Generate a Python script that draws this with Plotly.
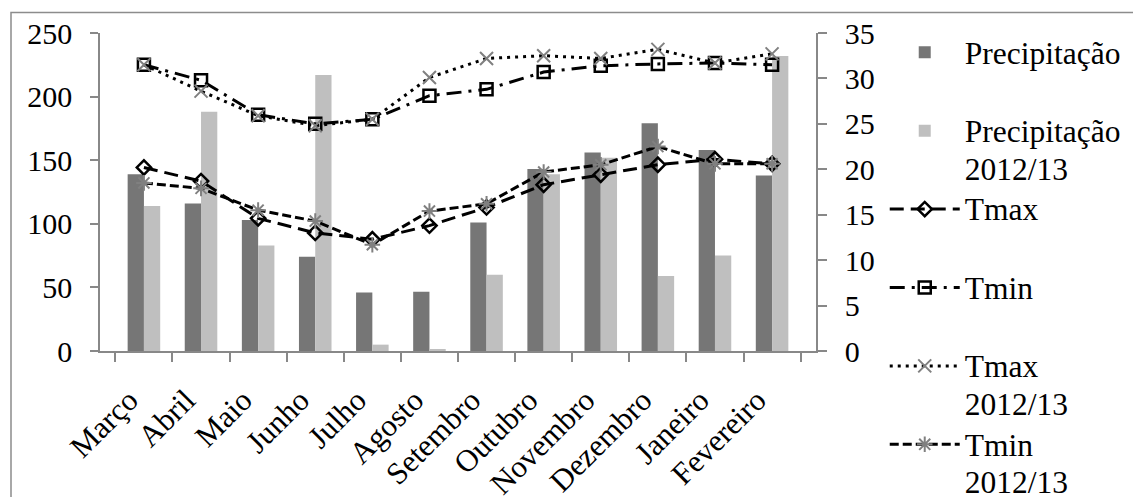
import plotly.graph_objects as go

months = ["Março", "Abril", "Maio", "Junho", "Julho", "Agosto", "Setembro",
          "Outubro", "Novembro", "Dezembro", "Janeiro", "Fevereiro"]
precip = [139, 116, 103, 74, 46, 46.5, 101, 143, 156, 179, 158, 138]
precip_1213 = [114, 188, 83, 217, 5, 1.5, 60, 139, 152, 59, 75, 232]
tmax = [20.2, 18.7, 14.6, 13.0, 12.3, 13.8, 15.8, 18.3, 19.4, 20.5, 21.1, 20.6]
tmin = [31.5, 29.8, 26.0, 25.0, 25.5, 28.1, 28.8, 30.7, 31.4, 31.6, 31.7, 31.5]
tmax_1213 = [31.5, 28.6, 25.9, 24.8, 25.5, 30.1, 32.2, 32.5, 32.2, 33.2, 31.7, 32.7]
tmin_1213 = [18.5, 17.9, 15.5, 14.3, 11.7, 15.4, 16.2, 19.7, 20.5, 22.5, 20.6, 20.6]

FONT = "'Liberation Serif', 'Times New Roman', Times, serif"
AX = "#888888"


def lg(*lines, extra=False):
    if len(lines) == 1:
        lines = (lines[0], "\u00a0")
    parts = ['<span style="font-size:31.5px">%s</span>' % s for s in lines]
    if extra:
        parts.append("\u00a0")
    return "<br>".join(parts)


fig = go.Figure()
fig.add_trace(go.Bar(x=months, y=precip, name=lg("Precipitação"),
                     marker=dict(color="#767676", line=dict(width=0))))
fig.add_trace(go.Bar(x=months, y=precip_1213, name=lg("Precipitação", "2012/13"),
                     marker=dict(color="#bfbfbf", line=dict(width=0))))
fig.add_trace(go.Scatter(x=months, y=tmax, name=lg("Tmax"), yaxis="y2", mode="lines+markers",
                         line=dict(color="black", width=3, dash="14px,7px"),
                         marker=dict(symbol="diamond-open", size=11, color="black",
                                     line=dict(width=2.5, color="black"))))
fig.add_trace(go.Scatter(x=months, y=tmin, name=lg("Tmin"), yaxis="y2", mode="lines+markers",
                         line=dict(color="black", width=3, dash="15px,7px,3px,7px"),
                         marker=dict(symbol="square-open", size=12, color="black",
                                     line=dict(width=2.5, color="black"))))
fig.add_trace(go.Scatter(x=months, y=tmax_1213, name=lg("Tmax", "2012/13"), yaxis="y2",
                         mode="lines+markers",
                         line=dict(color="black", width=3, dash="3px,5px"),
                         marker=dict(symbol="x-thin-open", size=13, color="#808080",
                                     line=dict(width=2, color="#808080"))))
fig.add_trace(go.Scatter(x=months, y=tmin_1213, name=lg("Tmin", "2012/13", extra=True),
                         yaxis="y2", mode="lines+markers",
                         line=dict(color="black", width=3, dash="9px,4px"),
                         marker=dict(symbol="asterisk-open", size=13, color="#808080",
                                     line=dict(width=2, color="#808080"))))

fig.update_layout(
    width=1133, height=497,
    margin=dict(l=100, r=317, t=33, b=146, autoexpand=False),
    paper_bgcolor="white", plot_bgcolor="white",
    font=dict(family=FONT, size=30, color="black"),
    barmode="group", bargap=0.43, bargroupgap=0,
    xaxis=dict(showline=True, linecolor=AX, linewidth=1.5, ticks="outside",
               tickson="boundaries", ticklen=9, tickcolor=AX, tickwidth=1.5,
               tickangle=-45, tickfont=dict(family=FONT, size=31), showgrid=False,
               ticklabelstandoff=17, ticklabelshift=-15, automargin=False),
    yaxis=dict(range=[0, 250], dtick=50, showline=True, linecolor=AX, linewidth=1.5,
               ticks="outside", ticklen=8, tickcolor=AX, tickwidth=1.5, showgrid=False,
               zeroline=False, ticklabelstandoff=12, automargin=False),
    yaxis2=dict(range=[0, 35], dtick=5, overlaying="y", side="right", showline=True,
                linecolor=AX, linewidth=1.5, ticks="outside", ticklen=9, tickcolor=AX,
                tickwidth=1.5, showgrid=False, zeroline=False, ticklabelstandoff=12,
                automargin=False),
    legend=dict(x=1.096, y=1.019, xanchor="left", yanchor="top", itemwidth=70,
                valign="top", font=dict(family=FONT, size=29), tracegroupgap=0,
                bgcolor="rgba(0,0,0,0)", maxheight=700),
    shapes=[dict(type="rect", xref="paper", yref="paper",
                 x0=-0.1243, x1=1.46, y0=-0.52, y1=1.0645,
                 line=dict(color="#8c8c8c", width=1.5), layer="below")],
)

fig.write_html("out.html")
